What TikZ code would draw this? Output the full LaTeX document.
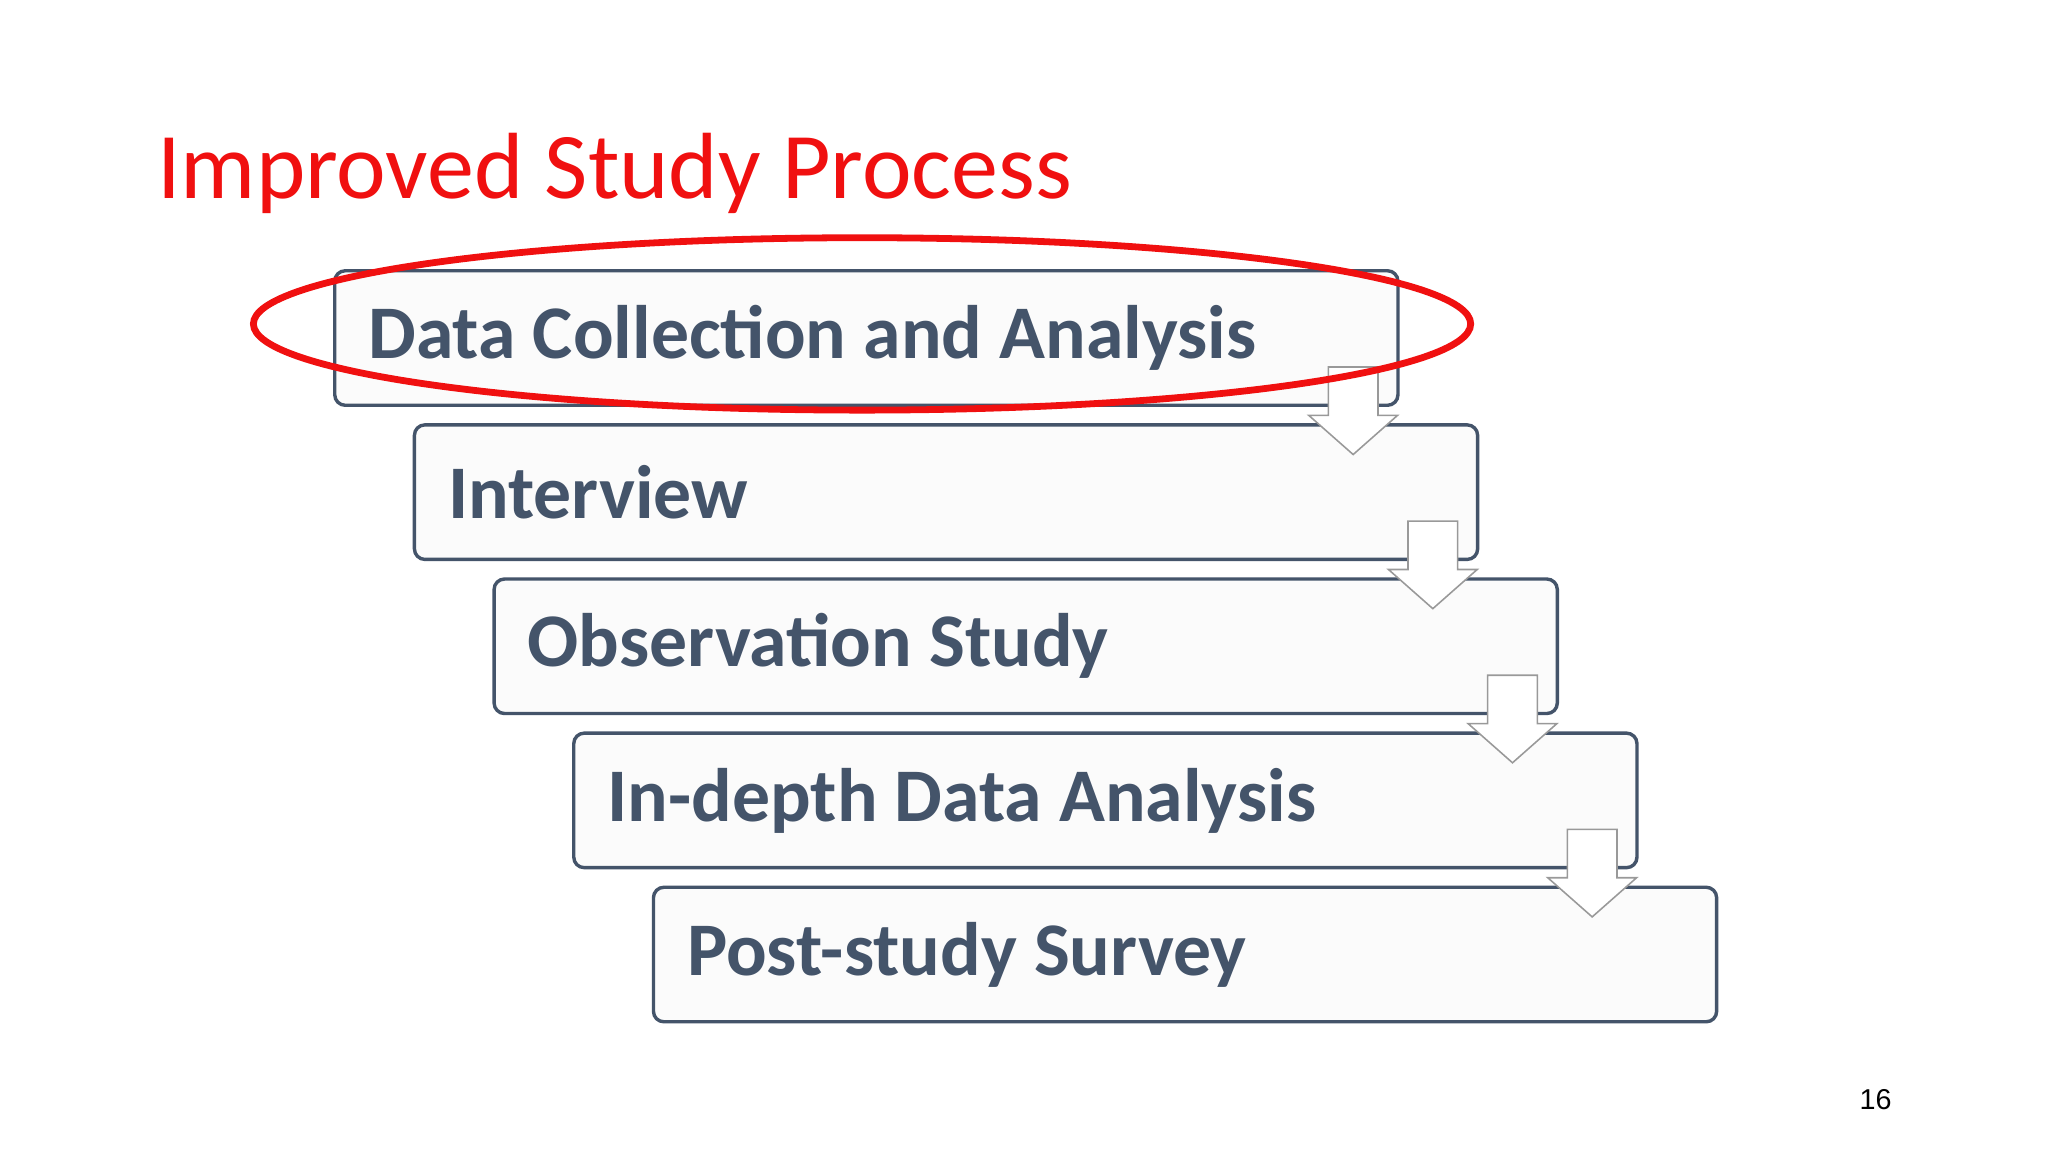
\documentclass[tikz,border=0pt]{standalone}
\usepackage{fontspec}
\setmainfont{Carlito}
\newfontfamily\arialf{Liberation Sans}
\definecolor{boxc}{HTML}{44546A}
\definecolor{titr}{HTML}{F01010}
\begin{document}
\begin{tikzpicture}[x=0.5pt,y=-0.5pt,
  stepbox/.style={draw=boxc,line width=1.3pt,fill=gray!3,rounded corners=4pt,minimum width=407pt,minimum height=51.5pt,anchor=north west,inner sep=0pt},
  lbl/.style={anchor=west,text=boxc,font=\bfseries\fontsize{29}{32}\selectfont},
  darrow/.style={draw=gray!80,fill=white,line width=0.6pt,line join=miter}]
\useasboundingbox (0,0) rectangle (1568,882);
\fill[white] (0,0) rectangle (1568,882);
\node[anchor=base west,text=titr,font=\fontsize{36}{40}\selectfont,inner sep=0pt] (title) at (120,152) {Improved Study Process};
\foreach \i/\t in {1/Data Collection and Analysis,2/Interview,3/Observation Study,4/In-depth Data Analysis,5/Post-study Survey}{
  \node[stepbox] (b\i) at ({255+61*(\i-1)},{206+118*(\i-1)}) {};
  \node[lbl] (t\i) at ([xshift=10pt]b\i.west) {\t};
}
\foreach \i in {1,2,3,4}{
  \coordinate (a\i) at ({1036+61*(\i-1)},{281+118*(\i-1)});
  \draw[darrow] (a\i) ++(-19,0) -- ++(38,0) -- ++(0,37) -- ++(15,0) -- ++(-34,30) -- ++(-34,-30) -- ++(15,0) -- cycle;
}
\draw[titr,line width=2.6pt] (660,248) ellipse [x radius=466,y radius=66];
\node[font=\arialf\fontsize{11}{13}\selectfont,inner sep=0pt] (pg) at (1436,842) {16};
\end{tikzpicture}
\end{document}
